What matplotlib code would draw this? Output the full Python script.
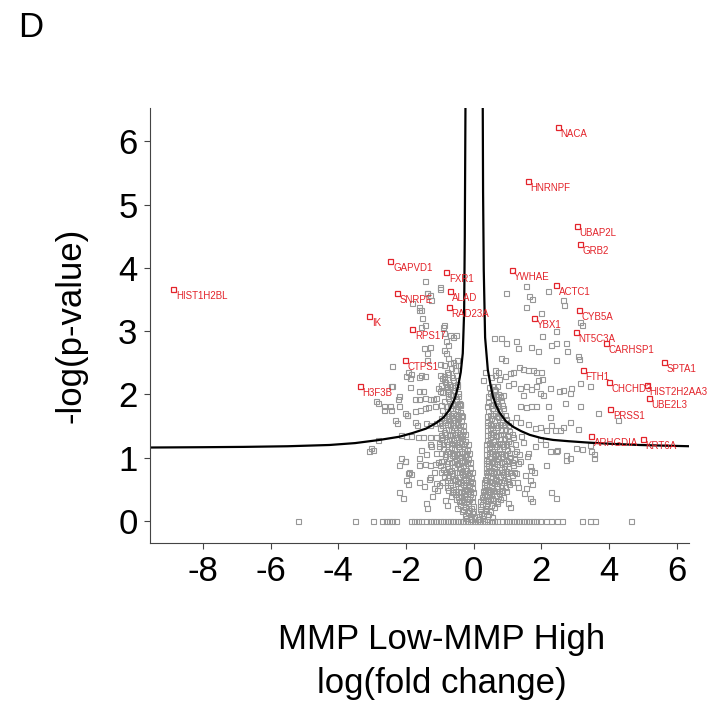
"""Volcano plot, panel D: MMP Low vs MMP High, log fold change vs -log(p-value)."""

import matplotlib
matplotlib.use("Agg")
import matplotlib.pyplot as plt

plt.rcParams["font.family"] = ["Liberation Sans", "DejaVu Sans"]
plt.rcParams["axes.unicode_minus"] = False

# labelled (significant) proteins
HIT_NAMES = ["NACA", "HNRNPF", "UBAP2L", "GRB2", "YWHAE", "ACTC1", "CYB5A", "YBX1",
             "NT5C3A", "CARHSP1", "SPTA1", "FTH1", "CHCHD3", "HIST2H2AA3", "UBE2L3",
             "PRSS1", "ARHGDIA", "KRT6A", "HIST1H2BL", "GAPVD1", "FXR1", "ALAD",
             "SNRPE", "RAD23A", "IK", "RPS17", "CTPS1", "H3F3B"]
HIT_FC = [2.49, 1.60, 3.05, 3.14, 1.12, 2.43, 3.11, 1.78,
          3.02, 3.91, 5.62, 3.22, 3.99, 5.12, 5.18,
          4.04, 3.46, 5.00, -8.87, -2.46, -0.81, -0.71,
          -2.27, -0.73, -3.08, -1.81, -2.04, -3.37]
HIT_P = [6.23, 5.38, 4.67, 4.38, 3.97, 3.73, 3.34, 3.21,
         2.99, 2.82, 2.52, 2.39, 2.20, 2.15, 1.95,
         1.77, 1.35, 1.30, 3.67, 4.11, 3.93, 3.64,
         3.60, 3.39, 3.24, 3.03, 2.54, 2.14]

# scattered background proteins, left side
LEFT_FC = [-1.45, -0.98, -1.37, -1.30, -1.81, -1.62, -1.55, -1.45, -1.55, -0.91, -0.86, -0.71,
           -0.53, -0.61, -0.81, -0.76, -1.48, -1.30, -1.37, -0.86, -0.81, -1.38, -2.42, -1.00,
           -0.86, -0.71, -0.56, -0.46, -1.94, -1.84, -1.99, -1.89, -1.55, -1.45, -1.60, -1.00,
           -0.93, -0.85, -0.95, -0.80, -1.05, -0.98, -0.77, -1.89, -2.44, -1.62, -1.50, -2.19,
           -2.24, -1.72, -1.62, -1.45, -1.30, -1.20, -1.10, -2.88, -2.66, -2.46, -2.19, -2.04,
           -1.97, -1.72, -1.58, -1.45, -1.35, -1.15, -0.95, -0.80, -0.55, -0.40, -0.35, -2.31,
           -1.72, -1.68, -1.40, -1.30, -1.12, -1.02, -0.88, -0.75, -0.60, -0.50, -2.14, -1.99,
           -1.84, -1.65, -1.50, -1.30, -1.10, -0.92, -0.72, -0.58, -0.40, -2.83, -3.03, -3.08,
           -2.98, -2.14, -2.04, -2.19, -1.62, -1.45, -1.30, -1.15, -0.98, -1.92, -1.84, -1.99,
           -1.62, -1.30, -1.12, -1.02, -1.18, -1.08, -2.19, -1.40, -0.80, -0.85, -1.00, -1.38,
           -1.25, -1.60, -1.52, -0.88, -2.81, -2.40, -2.65, -2.45, -2.25, -1.98, -2.04, -1.93,
           -1.93, -1.37, -2.09, -1.25, -1.42, -1.55, -1.18, -1.33, -1.48, -1.22, -1.60, -1.28]
LEFT_P = [3.80, 3.70, 3.61, 3.57, 3.45, 3.39, 3.34, 3.10, 3.06, 3.07, 2.97, 2.94,
          2.94, 2.91, 2.84, 2.78, 2.73, 2.75, 2.66, 2.71, 2.66, 2.54, 2.45, 2.48,
          2.47, 2.49, 2.46, 2.47, 2.36, 2.33, 2.29, 2.26, 2.31, 2.29, 2.27, 2.30,
          2.26, 2.20, 2.15, 2.12, 2.10, 2.05, 2.05, 2.12, 2.13, 2.05, 2.05, 1.98,
          1.93, 1.93, 1.92, 1.94, 1.93, 1.92, 1.94, 1.89, 1.81, 1.81, 1.81, 1.71,
          1.68, 1.74, 1.76, 1.78, 1.80, 1.82, 1.84, 1.82, 1.85, 1.85, 1.66, 1.59,
          1.57, 1.52, 1.55, 1.52, 1.55, 1.57, 1.60, 1.62, 1.60, 1.57, 1.36, 1.35,
          1.35, 1.33, 1.32, 1.32, 1.33, 1.33, 1.36, 1.37, 1.34, 1.28, 1.15, 1.10,
          1.12, 0.99, 0.95, 0.89, 0.89, 0.90, 0.88, 0.90, 0.88, 0.78, 0.74, 0.65,
          0.62, 0.70, 0.60, 0.57, 0.52, 0.49, 0.45, 0.28, 0.25, 0.33, 3.67, 3.60,
          3.50, 3.34, 3.21, 3.09, 1.87, 2.13, 1.76, 1.76, 1.54, 1.68, 0.94, 0.75,
          0.59, 0.20, 0.36, 1.18, 1.05, 1.12, 0.78, 0.66, 0.55, 0.40, 1.00, 1.22]

# scattered background proteins, right side
RIGHT_FC = [1.56, 0.97, 1.64, 1.74, 2.20, 2.64, 2.67, 1.56, 2.00, 3.14, 3.19, 2.43,
            2.03, 0.59, 0.82, 0.95, 1.24, 1.31, 1.71, 1.90, 2.30, 2.43, 2.74, 2.76,
            2.43, 3.09, 3.12, 0.82, 0.92, 1.34, 1.46, 1.61, 1.75, 1.16, 1.07, 0.92,
            0.72, 0.62, 0.33, 0.28, 1.85, 2.00, 2.03, 1.90, 1.85, 1.95, 2.05, 2.25,
            2.52, 2.64, 2.89, 2.84, 3.14, 3.43, 1.36, 1.56, 1.71, 1.46, 1.16, 1.01,
            0.87, 0.77, 0.62, 1.36, 1.56, 1.71, 1.85, 2.20, 2.69, 3.14, 3.68, 4.27,
            2.25, 2.30, 2.54, 2.64, 2.40, 2.15, 1.95, 1.80, 1.61, 1.36, 1.26, 1.07,
            2.84, 3.09, 3.43, 3.48, 3.04, 2.74, 2.84, 2.45, 2.25, 2.15, 1.66, 1.71,
            1.26, 1.31, 1.56, 1.66, 1.66, 2.30, 1.01, 1.07, 2.43, 2.74, 3.56, 3.56,
            3.20, 2.43, 1.77, 1.72, 1.72, 1.45, 1.62, 1.38, 1.52, 1.82, 1.28, 1.48,
            1.95, 2.10, 1.40, 1.58]
RIGHT_P = [3.72, 3.61, 3.56, 3.51, 3.64, 3.50, 3.42, 3.39, 3.28, 3.14, 3.09, 3.00,
           2.92, 2.89, 2.89, 2.82, 2.84, 2.73, 2.75, 2.68, 2.78, 2.82, 2.81, 2.68,
           2.55, 2.61, 2.56, 2.57, 2.54, 2.43, 2.40, 2.39, 2.39, 2.36, 2.34, 2.29,
           2.36, 2.39, 2.36, 2.23, 2.36, 2.36, 2.24, 2.22, 2.13, 2.02, 1.99, 2.10,
           2.05, 2.07, 2.10, 2.02, 2.18, 2.14, 2.10, 2.13, 2.08, 1.99, 2.18, 2.15,
           1.99, 1.96, 2.07, 1.81, 1.80, 1.82, 1.82, 1.82, 1.86, 1.81, 1.70, 1.60,
           1.65, 1.52, 1.44, 1.49, 1.44, 1.44, 1.49, 1.47, 1.53, 1.56, 1.65, 1.57,
           1.57, 1.45, 1.20, 1.10, 1.15, 1.04, 0.99, 1.12, 1.10, 0.89, 0.86, 0.81,
           0.75, 0.54, 0.52, 0.65, 0.36, 0.45, 0.28, 0.22, 1.10, 0.96, 1.05, 1.00,
           1.13, 0.36, 0.78, 0.59, 0.31, 1.25, 1.08, 0.95, 0.72, 1.18, 0.62, 0.44,
           1.30, 1.22, 1.35, 1.02]

# dense core of the volcano, left arm
CORE_L_FC = [0.02, -0.05, -0.11, -0.18, -0.26, -0.34,
             -0.02, -0.09, -0.17, -0.24, -0.31, -0.40, -0.48,
             -0.04, -0.12, -0.20, -0.29, -0.37, -0.46, -0.56, -0.66,
             -0.06, -0.14, -0.23, -0.32, -0.41, -0.50, -0.60, -0.70, -0.80,
             -0.08, -0.17, -0.26, -0.35, -0.44, -0.54, -0.64, -0.75, -0.86,
             -0.12, -0.21, -0.30, -0.39, -0.48, -0.58, -0.68, -0.79, -0.90,
             -0.16, -0.25, -0.34, -0.43, -0.53, -0.63, -0.73, -0.84, -0.96,
             -0.20, -0.29, -0.38, -0.47, -0.57, -0.67, -0.78, -0.90, -1.02,
             -0.25, -0.34, -0.43, -0.52, -0.62, -0.72, -0.83, -0.95,
             -0.30, -0.39, -0.48, -0.57, -0.67, -0.77, -0.88, -1.00,
             -0.36, -0.45, -0.54, -0.63, -0.73, -0.84, -0.95,
             -0.40, -0.50, -0.60, -0.70, -0.80, -0.92,
             -0.43, -0.53, -0.64, -0.75, -0.87,
             -0.47, -0.58, -0.69, -0.80, -0.92,
             -0.50, -0.62, -0.74, -0.86,
             -0.55, -0.68, -0.80]
CORE_L_P = [0.06, 0.12, 0.08, 0.14, 0.10, 0.15,
            0.24, 0.20, 0.28, 0.22, 0.30, 0.25, 0.21,
            0.38, 0.42, 0.36, 0.44, 0.40, 0.37, 0.43, 0.39,
            0.52, 0.57, 0.50, 0.58, 0.54, 0.60, 0.51, 0.56, 0.53,
            0.68, 0.72, 0.66, 0.74, 0.70, 0.67, 0.73, 0.69, 0.71,
            0.84, 0.80, 0.88, 0.83, 0.90, 0.85, 0.81, 0.87, 0.82,
            0.98, 1.03, 0.96, 1.01, 0.97, 1.04, 0.99, 1.02, 0.95,
            1.12, 1.16, 1.10, 1.18, 1.13, 1.17, 1.11, 1.15, 1.19,
            1.27, 1.31, 1.25, 1.33, 1.28, 1.30, 1.26, 1.29,
            1.42, 1.46, 1.40, 1.48, 1.43, 1.45, 1.41, 1.47,
            1.58, 1.62, 1.56, 1.64, 1.60, 1.57, 1.63,
            1.72, 1.77, 1.71, 1.79, 1.74, 1.76,
            1.87, 1.92, 1.86, 1.94, 1.89,
            2.02, 2.07, 2.01, 2.09, 2.04,
            2.17, 2.22, 2.16, 2.24,
            2.38, 2.42, 2.36]

# second, staggered layer of the left arm
CORE_L2_FC = [-0.08, -0.15, -0.22, -0.30, -0.01,
              -0.06, -0.13, -0.21, -0.28, -0.36, -0.44, -0.53,
              -0.02, -0.10, -0.19, -0.27, -0.36, -0.45, -0.55, -0.65, -0.75,
              -0.04, -0.12, -0.21, -0.30, -0.39, -0.49, -0.59, -0.69, -0.80, -0.92,
              -0.06, -0.15, -0.24, -0.33, -0.43, -0.53, -0.63, -0.73, -0.84, -0.96,
              -0.10, -0.19, -0.29, -0.38, -0.48, -0.58, -0.68, -0.79, -0.90, -1.05,
              -0.13, -0.23, -0.33, -0.42, -0.52, -0.62, -0.73, -0.84, -0.96, -1.10,
              -0.18, -0.28, -0.38, -0.48, -0.58, -0.68, -0.79, -0.90, -1.03,
              -0.24, -0.34, -0.44, -0.54, -0.64, -0.74, -0.85, -0.97,
              -0.30, -0.40, -0.50, -0.60, -0.70, -0.80, -0.92,
              -0.36, -0.46, -0.56, -0.66, -0.76, -0.88,
              -0.40, -0.50, -0.60, -0.70, -0.82,
              -0.45, -0.55, -0.65, -0.76,
              -0.48, -0.58, -0.70, -0.82,
              -0.52, -0.64, -0.76, -0.88,
              -0.50, -0.62, -0.75]
CORE_L2_P = [0.03, 0.17, 0.04, 0.18, 0.16,
             0.32, 0.34, 0.31, 0.35, 0.33, 0.31, 0.34,
             0.46, 0.48, 0.47, 0.49, 0.45, 0.48, 0.47, 0.46, 0.49,
             0.62, 0.63, 0.61, 0.64, 0.62, 0.63, 0.65, 0.61, 0.64, 0.62,
             0.77, 0.78, 0.76, 0.79, 0.77, 0.78, 0.76, 0.79, 0.77, 0.78,
             0.93, 0.92, 0.94, 0.93, 0.92, 0.94, 0.93, 0.92, 0.94, 0.93,
             1.07, 1.06, 1.08, 1.07, 1.06, 1.08, 1.07, 1.06, 1.08, 1.07,
             1.22, 1.21, 1.23, 1.22, 1.21, 1.23, 1.22, 1.21, 1.23,
             1.37, 1.36, 1.38, 1.37, 1.36, 1.38, 1.37, 1.36,
             1.52, 1.51, 1.53, 1.52, 1.51, 1.53, 1.52,
             1.67, 1.66, 1.68, 1.67, 1.66, 1.68,
             1.83, 1.82, 1.84, 1.83, 1.82,
             1.98, 1.97, 1.99, 1.98,
             2.13, 2.12, 2.14, 2.13,
             2.30, 2.28, 2.32, 2.29,
             2.55, 2.52, 2.58]

# dense core of the volcano, right arm
CORE_R_FC = [0.16, 0.22, 0.29, 0.36, 0.44, 0.53,
             0.20, 0.26, 0.33, 0.41, 0.50, 0.60, 0.70,
             0.24, 0.31, 0.38, 0.46, 0.55, 0.65, 0.76, 0.87,
             0.30, 0.36, 0.43, 0.51, 0.60, 0.70, 0.81, 0.92, 1.04,
             0.34, 0.40, 0.47, 0.56, 0.66, 0.77, 0.88, 1.00, 1.12,
             0.37, 0.44, 0.52, 0.60, 0.70, 0.80, 0.91, 1.03, 1.15,
             0.38, 0.45, 0.54, 0.63, 0.73, 0.84, 0.95, 1.08, 1.20,
             0.38, 0.46, 0.55, 0.65, 0.75, 0.86, 0.98, 1.11, 1.25,
             0.39, 0.47, 0.56, 0.67, 0.78, 0.90, 1.02, 1.15,
             0.39, 0.48, 0.58, 0.69, 0.80, 0.92, 1.05,
             0.40, 0.50, 0.61, 0.72, 0.84, 0.97,
             0.42, 0.53, 0.64, 0.76, 0.88,
             0.44, 0.56, 0.68, 0.80,
             0.47, 0.60, 0.72]
CORE_R_P = [0.07, 0.13, 0.09, 0.15, 0.11, 0.06,
            0.23, 0.27, 0.21, 0.29, 0.25, 0.22, 0.28,
            0.37, 0.43, 0.39, 0.45, 0.36, 0.41, 0.44, 0.38,
            0.53, 0.58, 0.51, 0.56, 0.60, 0.52, 0.57, 0.54, 0.59,
            0.67, 0.73, 0.69, 0.75, 0.66, 0.71, 0.74, 0.68, 0.72,
            0.83, 0.88, 0.81, 0.86, 0.90, 0.82, 0.87, 0.84, 0.89,
            0.97, 1.02, 0.95, 1.04, 0.99, 1.03, 0.96, 1.01, 0.98,
            1.13, 1.17, 1.10, 1.19, 1.14, 1.18, 1.12, 1.16, 1.11,
            1.28, 1.32, 1.26, 1.34, 1.29, 1.31, 1.27, 1.33,
            1.43, 1.47, 1.41, 1.49, 1.44, 1.46, 1.42,
            1.57, 1.63, 1.59, 1.64, 1.56, 1.61,
            1.73, 1.78, 1.71, 1.76, 1.79,
            1.88, 1.93, 1.86, 1.91,
            2.03, 2.08, 2.01]

# second, staggered layer of the right arm
CORE_R2_FC = [0.13, 0.19, 0.26, 0.33, 0.40, 0.49,
              0.20, 0.27, 0.34, 0.41, 0.49, 0.58, 0.68, 0.78,
              0.27, 0.33, 0.40, 0.48, 0.56, 0.65, 0.75, 0.85, 0.96,
              0.32, 0.38, 0.45, 0.53, 0.62, 0.71, 0.80, 0.90, 1.02, 1.14,
              0.36, 0.42, 0.49, 0.57, 0.66, 0.75, 0.85, 0.96, 1.07, 1.20,
              0.37, 0.44, 0.51, 0.60, 0.70, 0.80, 0.90, 1.01, 1.14, 1.30,
              0.38, 0.45, 0.53, 0.62, 0.72, 0.82, 0.93, 1.05, 1.18, 1.35,
              0.38, 0.46, 0.55, 0.64, 0.74, 0.85, 0.96, 1.08, 1.22,
              0.39, 0.47, 0.56, 0.66, 0.77, 0.88, 1.00, 1.12,
              0.39, 0.47, 0.56, 0.67, 0.78, 0.90, 1.02,
              0.40, 0.48, 0.58, 0.69, 0.80, 0.92,
              0.41, 0.51, 0.62, 0.73, 0.85,
              0.43, 0.54, 0.65, 0.78,
              0.46, 0.57, 0.69,
              0.50, 0.62, 0.75]
CORE_R2_P = [0.03, 0.18, 0.04, 0.17, 0.03, 0.16,
             0.32, 0.34, 0.33, 0.32, 0.34, 0.33, 0.32, 0.34,
             0.47, 0.49, 0.48, 0.47, 0.49, 0.48, 0.47, 0.49, 0.48,
             0.62, 0.64, 0.63, 0.62, 0.64, 0.63, 0.62, 0.64, 0.63, 0.62,
             0.77, 0.79, 0.78, 0.77, 0.79, 0.78, 0.77, 0.79, 0.78, 0.77,
             0.92, 0.94, 0.93, 0.92, 0.94, 0.93, 0.92, 0.94, 0.93, 0.92,
             1.06, 1.08, 1.07, 1.06, 1.08, 1.07, 1.06, 1.08, 1.07, 1.06,
             1.21, 1.23, 1.22, 1.21, 1.23, 1.22, 1.21, 1.23, 1.22,
             1.36, 1.38, 1.37, 1.36, 1.38, 1.37, 1.36, 1.38,
             1.51, 1.53, 1.52, 1.51, 1.53, 1.52, 1.51,
             1.66, 1.68, 1.67, 1.66, 1.68, 1.67,
             1.82, 1.84, 1.83, 1.82, 1.84,
             1.97, 1.99, 1.98, 1.97,
             2.12, 2.14, 2.13,
             2.27, 2.30, 2.25]

# proteins with p = 1 (sit on the zero line)
ZERO_FC = [-5.20, -3.50, -2.96, -2.70, -2.60, -2.50, -2.40, -2.30, -1.85, -1.75, -1.65,
           -1.55, -1.40, -1.30, -1.20, -1.10, -1.00, -0.90, -0.80, -0.70, -0.60, -0.50,
           -0.40, -0.30, -0.20, -0.10, 0.00, 0.10, 0.20, 0.30, 0.40, 0.50, 0.60, 0.70,
           0.85, 0.95, 1.05, 1.15, 1.25, 1.35, 1.45, 1.55, 1.65, 1.75, 1.85, 1.95, 2.15,
           2.30, 2.45, 2.60, 3.20, 3.45, 3.60, 4.65]

# significance threshold curve
CURVE_L_FC = [-9.6, -8.0, -6.8, -5.5, -4.26, -3.5, -2.78, -2.2, -1.8, -1.4, -1.1, -0.88,
              -0.71, -0.56, -0.46, -0.38, -0.32, -0.28, -0.26, -0.24]
CURVE_L_P = [1.16, 1.165, 1.17, 1.18, 1.20, 1.23, 1.28, 1.33, 1.39, 1.46, 1.55, 1.64,
             1.76, 1.93, 2.12, 2.35, 2.65, 3.3, 4.5, 6.6]
CURVE_R_FC = [0.27, 0.28, 0.30, 0.34, 0.42, 0.50, 0.57, 0.66, 0.77, 0.95, 1.16, 1.4,
              1.66, 2.0, 2.35, 2.8, 3.33, 4.0, 4.91, 5.6, 6.4]
CURVE_R_P = [6.6, 5.2, 3.97, 2.9, 2.39, 2.15, 1.97, 1.83, 1.71, 1.58, 1.49, 1.42,
             1.36, 1.31, 1.28, 1.26, 1.24, 1.22, 1.20, 1.19, 1.18]

GREY = "#979797"
RED = "#e3242b"


def main() -> None:
    fig = plt.figure(figsize=(7.09, 7.03), dpi=100)
    ax = fig.add_axes([0.2116, 0.2276, 0.760, 0.6188])

    bg_x = LEFT_FC + RIGHT_FC + CORE_L_FC + CORE_L2_FC + CORE_R_FC + CORE_R2_FC + ZERO_FC
    bg_y = LEFT_P + RIGHT_P + CORE_L_P + CORE_L2_P + CORE_R_P + CORE_R2_P + [0.0] * len(ZERO_FC)
    ax.plot(bg_x, bg_y, "s", ms=3.6, mfc="none", mec=GREY, mew=0.8, clip_on=False)

    ax.plot(HIT_FC, HIT_P, "s", ms=3.6, mfc="none", mec=RED, mew=0.9)
    for name, x, y in zip(HIT_NAMES, HIT_FC, HIT_P):
        ax.annotate(name, (x, y), xytext=(2, -1.5), textcoords="offset points",
                    ha="left", va="top", fontsize=7, color=RED, annotation_clip=False)

    ax.plot(CURVE_L_FC, CURVE_L_P, color="black", lw=1.6)
    ax.plot(CURVE_R_FC, CURVE_R_P, color="black", lw=1.6)

    ax.set_xlim(-9.56, 6.36)
    ax.set_ylim(-0.35, 6.53)
    ax.set_xticks([-8, -6, -4, -2, 0, 2, 4, 6])
    ax.set_yticks([0, 1, 2, 3, 4, 5, 6])
    for side in ("top", "right"):
        ax.spines[side].set_visible(False)
    for side in ("left", "bottom"):
        ax.spines[side].set_color("#444444")
        ax.spines[side].set_linewidth(0.8)
    ax.tick_params(direction="out", length=4, width=0.8, color="#444444",
                   labelsize=25, pad=5)

    ax.set_ylabel("-log(p-value)", fontsize=25, labelpad=22)
    ax.set_xlabel("MMP Low-MMP High\nlog(fold change)", fontsize=25, linespacing=1.4)
    ax.xaxis.set_label_coords(0.541, -0.185)

    fig.text(0.025, 0.985, "D", fontsize=25, ha="left", va="top")

    fig.savefig("out.png", dpi=100)


if __name__ == "__main__":
    main()
